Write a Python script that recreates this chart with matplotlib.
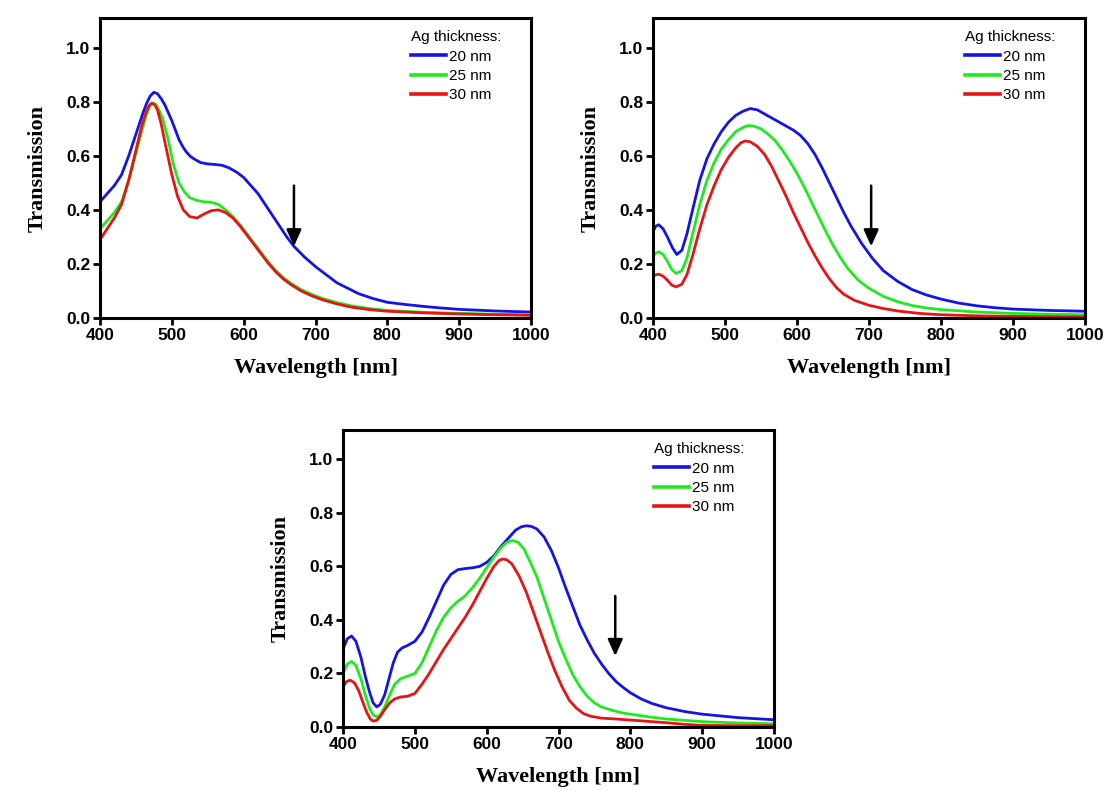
import numpy as np
import matplotlib
matplotlib.use('Agg')
import matplotlib.pyplot as plt

# --- panel a ---
wl_a_blue = [400, 410, 420, 430, 440, 450, 460, 465, 470, 475, 480, 485, 490, 500, 510, 515, 520, 525, 530, 540, 550, 560, 570, 580, 590, 600, 610, 620, 630, 640, 650, 660, 670, 685, 700, 715, 730, 745, 760, 780, 800, 825, 850, 875, 900, 950, 1000]
t_a_blue = [0.43, 0.46, 0.49, 0.53, 0.60, 0.68, 0.76, 0.795, 0.822, 0.835, 0.83, 0.812, 0.79, 0.73, 0.66, 0.635, 0.615, 0.60, 0.59, 0.575, 0.57, 0.568, 0.565, 0.555, 0.54, 0.52, 0.49, 0.46, 0.42, 0.38, 0.34, 0.30, 0.265, 0.225, 0.19, 0.16, 0.13, 0.11, 0.09, 0.072, 0.058, 0.05, 0.043, 0.037, 0.032, 0.026, 0.022]
wl_a_green = [400, 410, 420, 430, 440, 450, 460, 465, 470, 474, 478, 482, 487, 495, 502, 510, 518, 525, 535, 545, 555, 565, 575, 585, 595, 605, 615, 625, 635, 645, 655, 665, 680, 695, 710, 730, 750, 775, 800, 850, 900, 950, 1000]
t_a_green = [0.33, 0.36, 0.39, 0.43, 0.51, 0.61, 0.71, 0.755, 0.785, 0.795, 0.79, 0.77, 0.74, 0.66, 0.57, 0.50, 0.465, 0.445, 0.435, 0.43, 0.428, 0.42, 0.40, 0.375, 0.345, 0.31, 0.275, 0.24, 0.205, 0.175, 0.15, 0.13, 0.105, 0.087, 0.072, 0.057, 0.045, 0.035, 0.028, 0.021, 0.017, 0.014, 0.012]
wl_a_red = [400, 410, 420, 430, 440, 450, 458, 464, 468, 472, 476, 480, 485, 492, 500, 508, 516, 525, 535, 545, 555, 565, 575, 585, 595, 605, 615, 625, 635, 645, 655, 665, 680, 695, 710, 730, 750, 775, 800, 850, 900, 950, 1000]
t_a_red = [0.29, 0.33, 0.37, 0.42, 0.51, 0.62, 0.71, 0.76, 0.785, 0.795, 0.79, 0.77, 0.72, 0.63, 0.53, 0.45, 0.40, 0.375, 0.37, 0.385, 0.397, 0.40, 0.39, 0.37, 0.34, 0.305, 0.27, 0.235, 0.2, 0.17, 0.145, 0.125, 0.1, 0.082, 0.067, 0.052, 0.04, 0.031, 0.025, 0.019, 0.015, 0.012, 0.01]

# --- panel b ---
wl_b_blue = [400, 404, 408, 414, 420, 427, 433, 440, 447, 455, 465, 475, 485, 495, 505, 515, 525, 535, 545, 555, 565, 575, 585, 595, 605, 615, 625, 635, 645, 655, 665, 675, 690, 705, 720, 740, 760, 780, 800, 825, 850, 875, 900, 950, 1000]
t_b_blue = [0.32, 0.34, 0.345, 0.33, 0.30, 0.26, 0.235, 0.25, 0.31, 0.40, 0.51, 0.59, 0.645, 0.69, 0.725, 0.75, 0.765, 0.775, 0.77, 0.755, 0.74, 0.725, 0.71, 0.695, 0.675, 0.645, 0.605, 0.555, 0.5, 0.445, 0.39, 0.34, 0.275, 0.22, 0.175, 0.135, 0.105, 0.085, 0.07, 0.055, 0.045, 0.038, 0.033, 0.028, 0.025]
wl_b_green = [400, 404, 408, 414, 420, 426, 432, 440, 447, 455, 465, 475, 485, 495, 505, 515, 525, 532, 540, 550, 560, 570, 580, 590, 600, 610, 620, 630, 640, 650, 660, 670, 685, 700, 720, 740, 760, 780, 800, 850, 900, 950, 1000]
t_b_green = [0.23, 0.24, 0.245, 0.235, 0.21, 0.18, 0.165, 0.175, 0.22, 0.31, 0.42, 0.51, 0.575, 0.625, 0.66, 0.69, 0.705, 0.712, 0.71, 0.70, 0.68, 0.655, 0.62, 0.58, 0.535, 0.485, 0.43, 0.375, 0.32, 0.27, 0.225, 0.185, 0.14, 0.11, 0.08, 0.06, 0.046, 0.037, 0.031, 0.022, 0.017, 0.014, 0.012]
wl_b_red = [400, 404, 408, 414, 420, 426, 432, 440, 447, 455, 465, 475, 485, 495, 505, 515, 522, 528, 535, 545, 555, 565, 575, 585, 595, 605, 615, 625, 635, 645, 655, 665, 680, 700, 720, 740, 770, 800, 850, 900, 950, 1000]
t_b_red = [0.155, 0.16, 0.162, 0.155, 0.14, 0.122, 0.115, 0.125, 0.16, 0.23, 0.33, 0.42, 0.49, 0.55, 0.595, 0.63, 0.648, 0.655, 0.652, 0.635, 0.605, 0.56, 0.505, 0.45, 0.39, 0.335, 0.28, 0.23, 0.185, 0.145, 0.112, 0.088, 0.065, 0.047, 0.035, 0.026, 0.017, 0.012, 0.008, 0.006, 0.005, 0.004]

# --- panel c ---
wl_c_blue = [400, 406, 412, 418, 425, 431, 437, 442, 447, 452, 458, 464, 470, 476, 482, 490, 500, 510, 520, 530, 540, 550, 560, 570, 580, 590, 600, 610, 620, 630, 640, 648, 655, 662, 670, 680, 690, 700, 710, 720, 730, 740, 750, 760, 770, 780, 790, 800, 815, 830, 850, 875, 900, 950, 1000]
t_c_blue = [0.29, 0.33, 0.34, 0.32, 0.26, 0.19, 0.13, 0.09, 0.075, 0.085, 0.12, 0.18, 0.24, 0.28, 0.295, 0.305, 0.32, 0.355, 0.41, 0.47, 0.53, 0.57, 0.588, 0.592, 0.595, 0.60, 0.615, 0.64, 0.675, 0.705, 0.735, 0.748, 0.752, 0.75, 0.74, 0.71, 0.66, 0.595, 0.52, 0.45, 0.38, 0.325, 0.275, 0.235, 0.2, 0.17, 0.148, 0.128, 0.105, 0.088, 0.072, 0.058, 0.048, 0.035, 0.027]
wl_c_green = [400, 406, 412, 418, 425, 431, 437, 442, 447, 452, 458, 465, 472, 480, 490, 500, 510, 520, 530, 540, 550, 560, 570, 580, 590, 600, 610, 620, 628, 636, 644, 652, 660, 670, 680, 690, 700, 710, 720, 730, 740, 750, 760, 775, 790, 800, 825, 850, 900, 950, 1000]
t_c_green = [0.20, 0.235, 0.245, 0.23, 0.18, 0.12, 0.07, 0.045, 0.038, 0.045, 0.075, 0.12, 0.16, 0.18, 0.19, 0.2, 0.24, 0.3, 0.36, 0.41, 0.445, 0.47, 0.49, 0.52, 0.555, 0.595, 0.635, 0.67, 0.69, 0.697, 0.69, 0.665, 0.62, 0.56, 0.48, 0.4, 0.32, 0.255, 0.195, 0.15, 0.115, 0.09, 0.075, 0.062, 0.052, 0.048, 0.038, 0.03, 0.02, 0.015, 0.012]
wl_c_red = [400, 405, 410, 416, 422, 428, 433, 438, 442, 447, 452, 458, 465, 472, 480, 490, 500, 510, 520, 530, 540, 550, 560, 570, 580, 590, 600, 610, 617, 622, 628, 635, 645, 655, 665, 675, 685, 695, 705, 715, 725, 735, 745, 760, 780, 800, 825, 850, 875, 900, 950, 1000]
t_c_red = [0.15, 0.17, 0.175, 0.165, 0.135, 0.09, 0.055, 0.03, 0.022, 0.025, 0.04, 0.065, 0.09, 0.105, 0.112, 0.115, 0.125, 0.16, 0.2, 0.245, 0.29, 0.33, 0.37, 0.41, 0.455, 0.505, 0.555, 0.6, 0.622, 0.628, 0.625, 0.61, 0.565, 0.505, 0.43, 0.355, 0.28, 0.21, 0.15, 0.1, 0.07, 0.05, 0.04, 0.033, 0.03, 0.026, 0.021, 0.016, 0.01, 0.006, 0.005, 0.005]

legend_labels = ['20 nm', '25 nm', '30 nm']
colors = ['#1414e6', '#1eeb1e', '#e61414']
arrow_x = [670, 703, 779]

panels = [
    ([wl_a_blue, wl_a_green, wl_a_red], [t_a_blue, t_a_green, t_a_red]),
    ([wl_b_blue, wl_b_green, wl_b_red], [t_b_blue, t_b_green, t_b_red]),
    ([wl_c_blue, wl_c_green, wl_c_red], [t_c_blue, t_c_green, t_c_red]),
]

W, H = 1118, 800
fig = plt.figure(figsize=(W / 100, H / 100), dpi=100)
# axes boxes in pixels: left, right, top, bottom
boxes = [(100, 531, 18, 318), (653, 1085, 18, 318), (343, 774, 430, 727)]

label_font = {'family': 'Liberation Serif', 'weight': 'bold', 'size': 16}

for (xs, ys), (l, r, t, b), ax_x in zip(panels, boxes, arrow_x):
    ax = fig.add_axes([l / W, 1 - b / H, (r - l) / W, (b - t) / H])
    for x, y, c, lab in zip(xs, ys, colors, legend_labels):
        ax.plot(x, y, color=c, lw=2.0, label=lab, solid_joinstyle='round')
    ax.set_xlim(400, 1000)
    ax.set_ylim(0, 1.11)
    ax.set_xticks([400, 500, 600, 700, 800, 900, 1000])
    ax.set_yticks([0.0, 0.2, 0.4, 0.6, 0.8, 1.0])
    ax.set_yticklabels(['0.0', '0.2', '0.4', '0.6', '0.8', '1.0'])
    for s in ax.spines.values():
        s.set_linewidth(2.2)
    ax.tick_params(direction='out', length=5, width=2, pad=2)
    for lbl in ax.get_xticklabels() + ax.get_yticklabels():
        lbl.set_fontfamily('Liberation Sans')
        lbl.set_fontweight('bold')
        lbl.set_fontsize(12.5)
    ax.set_xlabel('Wavelength [nm]', fontdict=label_font, labelpad=11)
    ax.set_ylabel('Transmission', fontdict=label_font, labelpad=13)
    ax.annotate('', xy=(ax_x, 0.255), xytext=(ax_x, 0.5),
                arrowprops=dict(arrowstyle='-|>,head_length=1.0,head_width=0.45',
                                color='black', lw=1.8))
    leg = ax.legend(title='Ag thickness:', loc='upper right', frameon=False,
                    prop={'family': 'Liberation Sans', 'size': 11},
                    title_fontproperties={'family': 'Liberation Sans', 'size': 11},
                    handlelength=2.3, handletextpad=0.15, labelspacing=0.35,
                    borderaxespad=0.5, borderpad=0.3, bbox_to_anchor=(0.96, 1.0))
    leg._legend_box.align = 'left'
    for h in leg.get_lines():
        h.set_linewidth(2.6)

fig.savefig('out.png', dpi=100)
